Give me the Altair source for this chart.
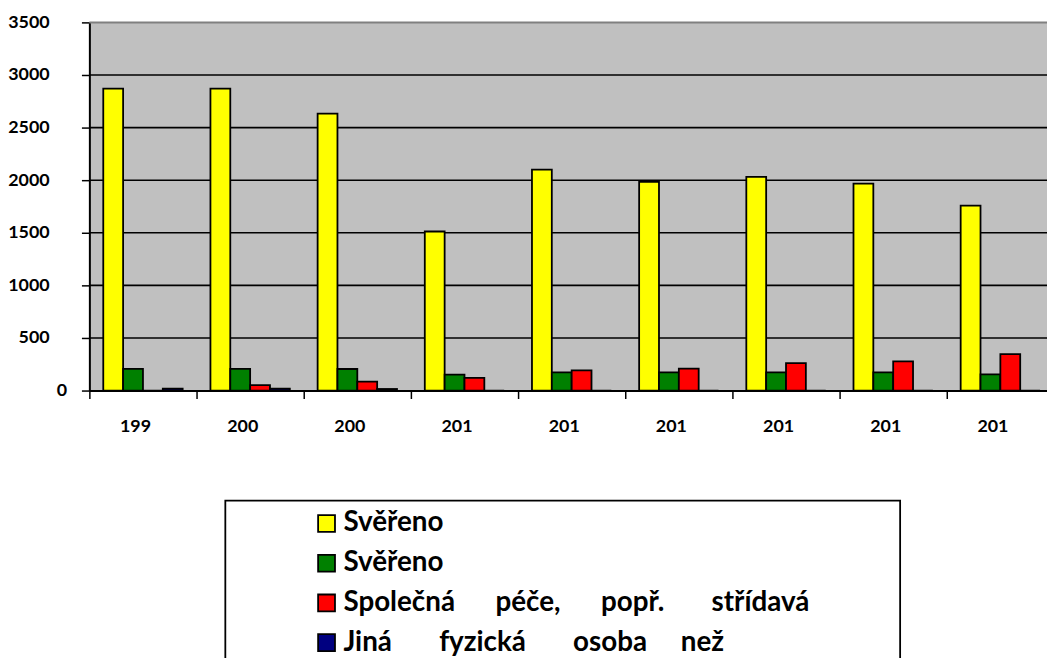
import altair as alt
import pandas as pd

# ---- data ----
year_labels = ["199", "200", "200", "201", "201", "201", "201", "201", "201"]

NB = "\u00a0"
ZW = "\u200b"
series_names = [
    "Svěřeno",
    "Svěřeno" + NB,
    "Společná" + NB * 6 + "péče," + NB * 6 + "popř." + NB * 7 + "střídavá" + NB * 12 + ZW,
    "Jiná" + NB * 7 + "fyzická" + NB * 7 + "osoba" + NB * 5 + "než",
]
series_colors = ["#FFFF00", "#008000", "#FF0000", "#000080"]

v_yellow = [2870, 2870, 2632, 1512, 2100, 1985, 2032, 1968, 1758]
v_green = [207, 207, 205, 151, 173, 173, 173, 173, 154]
v_red = [0, 52, 85, 120, 192, 208, 261, 277, 346]
v_blue = [18, 18, 15, 0, 0, 0, 0, 0, 0]

y_ticks = [0, 500, 1000, 1500, 2000, 2500, 3000, 3500]
grid_black = [500, 1000, 1500, 2000, 2500, 3000]
grid_top = [3500]

# ---- tables ----
rows = []
for i in range(len(year_labels)):
    for name, vals in zip(series_names, [v_yellow, v_green, v_red, v_blue]):
        rows.append({"idx": i, "series": name, "value": vals[i]})
df = pd.DataFrame(rows)
grid_df = pd.DataFrame({"value": grid_black})
top_df = pd.DataFrame({"value": grid_top})

label_expr = "[" + ",".join("'" + l + "'" for l in year_labels) + "][datum.value]"
y_label_expr = "datum.value === 0 ? '0' : format(datum.value, 'd') + '" + NB * 4 + ZW + "'"

FONT = "Lato"
y_scale = alt.Scale(domain=[0, 3500], nice=False)

grid = alt.Chart(grid_df).mark_rule(color="black", strokeWidth=1.6).encode(
    y=alt.Y("value:Q", scale=y_scale)
)
top = alt.Chart(top_df).mark_rule(color="#808080", strokeWidth=2).encode(
    y=alt.Y("value:Q", scale=y_scale)
)

bars = alt.Chart(df).mark_bar(stroke="black", strokeWidth=1.8).encode(
    x=alt.X(
        "idx:O",
        scale=alt.Scale(range=[0, 972], paddingInner=0, paddingOuter=0),
        axis=alt.Axis(
            title=None,
            labelExpr=label_expr,
            labelAngle=0,
            labelOffset=-8,
            tickBand="extent",
            tickSize=8,
            tickColor="black",
            tickWidth=1.5,
            domainColor="black",
            domainWidth=2,
            labelFont=FONT,
            labelFontWeight="bold",
            labelFontSize=18,
            labelColor="black",
            labelPadding=19,
            grid=False,
        ),
    ),
    xOffset=alt.XOffset(
        "series:N",
        scale=alt.Scale(domain=series_names, paddingInner=0, paddingOuter=0.7),
    ),
    y=alt.Y(
        "value:Q",
        scale=y_scale,
        axis=alt.Axis(
            title=None,
            values=y_ticks,
            labelExpr=y_label_expr,
            tickSize=8,
            tickColor="black",
            tickWidth=1.5,
            domainColor="black",
            domainWidth=2,
            labelFont=FONT,
            labelFontWeight="bold",
            labelFontSize=18,
            labelColor="black",
            labelPadding=15,
            grid=False,
        ),
    ),
    color=alt.Color(
        "series:N",
        scale=alt.Scale(domain=series_names, range=series_colors),
        legend=alt.Legend(
            title=None,
            orient="none",
            legendX=137,
            legendY=482,
            direction="vertical",
            fillColor="white",
            strokeColor="black",
            padding=9,
            symbolType="square",
            symbolSize=289,
            symbolStrokeColor="black",
            symbolStrokeWidth=1.8,
            symbolOffset=79,
            labelFont=FONT,
            labelFontWeight="bold",
            labelFontSize=28,
            labelColor="black",
            labelOffset=3,
            labelLimit=3000,
            rowPadding=12,
        ),
    ),
)

chart = alt.layer(grid, top, bars).properties(
    width=965,
    height=371,
    padding={"left": 82, "top": 12, "right": 0, "bottom": 267},
    autosize=alt.AutoSizeParams(type="none"),
    background="white",
).configure_view(
    fill="#C0C0C0", strokeWidth=0
).configure_legend(
    strokeWidth=1.8
)

chart.save("out.html", embed_options={"renderer": "svg", "actions": False})
